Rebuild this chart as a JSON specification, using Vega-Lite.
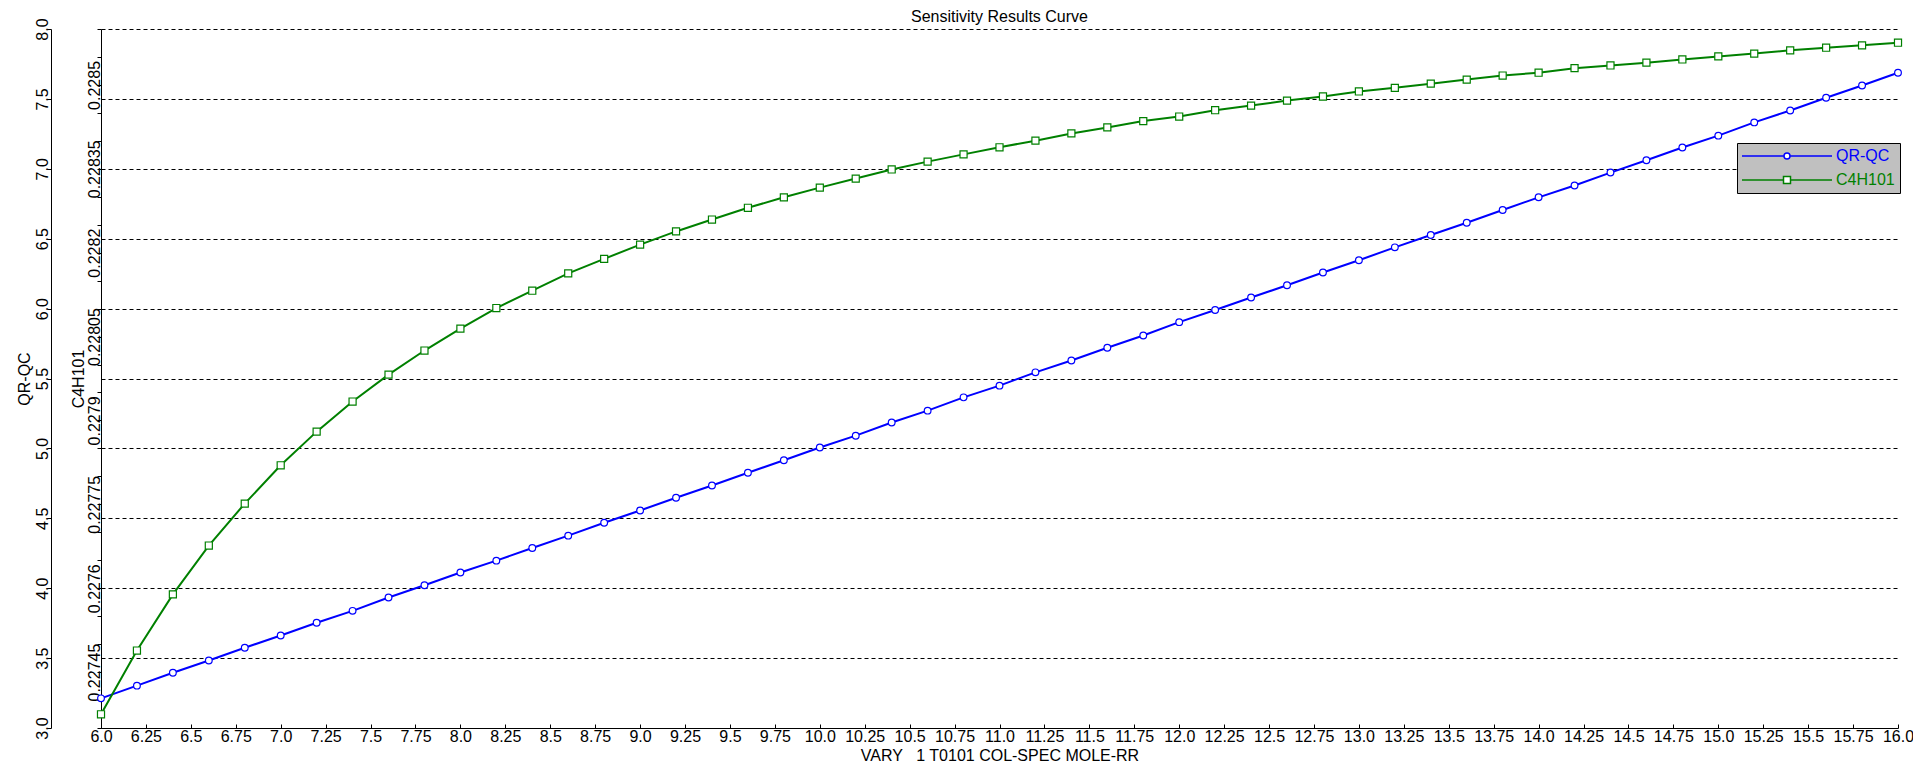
{
  "$schema": "https://vega.github.io/schema/vega-lite/v6.json",
  "width": 1797,
  "height": 699,
  "autosize": {"type": "none"},
  "padding": {"left": 101, "top": 29, "right": 15, "bottom": 41},
  "background": "white",
  "title": {"text": "Sensitivity Results Curve", "fontSize": 16, "fontWeight": "normal", "font": "Liberation Sans", "color": "black", "offset": 0, "dy": 7, "frame": "group"},
  "config": {
    "view": {"stroke": null},
    "font": "Liberation Sans",
    "axis": {
      "domainColor": "black", "tickColor": "black", "labelColor": "black", "titleColor": "black",
      "labelFont": "Liberation Sans", "titleFont": "Liberation Sans", "labelFontSize": 16, "titleFontSize": 16,
      "titleFontWeight": "normal", "labelFlush": false, "labelOverlap": false, "labelBound": false,
      "domainWidth": 1, "tickWidth": 1
    }
  },
  "data": {"values": [
    {"x": 6.0, "qrqc": 3.212, "c4h101": 0.2273745},
    {"x": 6.2, "qrqc": 3.303, "c4h101": 0.2274885},
    {"x": 6.4, "qrqc": 3.395, "c4h101": 0.2275890},
    {"x": 6.6, "qrqc": 3.483, "c4h101": 0.2276763},
    {"x": 6.8, "qrqc": 3.574, "c4h101": 0.2277513},
    {"x": 7.0, "qrqc": 3.662, "c4h101": 0.2278198},
    {"x": 7.2, "qrqc": 3.753, "c4h101": 0.2278800},
    {"x": 7.4, "qrqc": 3.838, "c4h101": 0.2279338},
    {"x": 7.6, "qrqc": 3.933, "c4h101": 0.2279820},
    {"x": 7.8, "qrqc": 4.021, "c4h101": 0.2280250},
    {"x": 8.0, "qrqc": 4.112, "c4h101": 0.2280643},
    {"x": 8.2, "qrqc": 4.197, "c4h101": 0.2281010},
    {"x": 8.4, "qrqc": 4.288, "c4h101": 0.2281320},
    {"x": 8.6, "qrqc": 4.376, "c4h101": 0.2281630},
    {"x": 8.8, "qrqc": 4.468, "c4h101": 0.2281890},
    {"x": 9.0, "qrqc": 4.556, "c4h101": 0.2282143},
    {"x": 9.2, "qrqc": 4.647, "c4h101": 0.2282380},
    {"x": 9.4, "qrqc": 4.735, "c4h101": 0.2282593},
    {"x": 9.6, "qrqc": 4.826, "c4h101": 0.2282803},
    {"x": 9.8, "qrqc": 4.915, "c4h101": 0.2282990},
    {"x": 10.0, "qrqc": 5.006, "c4h101": 0.2283163},
    {"x": 10.2, "qrqc": 5.091, "c4h101": 0.2283325},
    {"x": 10.4, "qrqc": 5.185, "c4h101": 0.2283488},
    {"x": 10.6, "qrqc": 5.270, "c4h101": 0.2283628},
    {"x": 10.8, "qrqc": 5.365, "c4h101": 0.2283758},
    {"x": 11.0, "qrqc": 5.449, "c4h101": 0.2283885},
    {"x": 11.2, "qrqc": 5.544, "c4h101": 0.2284003},
    {"x": 11.4, "qrqc": 5.629, "c4h101": 0.2284133},
    {"x": 11.6, "qrqc": 5.720, "c4h101": 0.2284240},
    {"x": 11.8, "qrqc": 5.808, "c4h101": 0.2284353},
    {"x": 12.0, "qrqc": 5.903, "c4h101": 0.2284435},
    {"x": 12.2, "qrqc": 5.990, "c4h101": 0.2284548},
    {"x": 12.4, "qrqc": 6.079, "c4h101": 0.2284630},
    {"x": 12.6, "qrqc": 6.167, "c4h101": 0.2284720},
    {"x": 12.8, "qrqc": 6.258, "c4h101": 0.2284793},
    {"x": 13.0, "qrqc": 6.346, "c4h101": 0.2284883},
    {"x": 13.2, "qrqc": 6.438, "c4h101": 0.2284948},
    {"x": 13.4, "qrqc": 6.526, "c4h101": 0.2285023},
    {"x": 13.6, "qrqc": 6.614, "c4h101": 0.2285095},
    {"x": 13.8, "qrqc": 6.705, "c4h101": 0.2285168},
    {"x": 14.0, "qrqc": 6.796, "c4h101": 0.2285218},
    {"x": 14.2, "qrqc": 6.881, "c4h101": 0.2285300},
    {"x": 14.4, "qrqc": 6.973, "c4h101": 0.2285348},
    {"x": 14.6, "qrqc": 7.061, "c4h101": 0.2285398},
    {"x": 14.8, "qrqc": 7.152, "c4h101": 0.2285455},
    {"x": 15.0, "qrqc": 7.237, "c4h101": 0.2285510},
    {"x": 15.2, "qrqc": 7.332, "c4h101": 0.2285560},
    {"x": 15.4, "qrqc": 7.417, "c4h101": 0.2285618},
    {"x": 15.6, "qrqc": 7.508, "c4h101": 0.2285665},
    {"x": 15.8, "qrqc": 7.596, "c4h101": 0.2285708},
    {"x": 16.0, "qrqc": 7.687, "c4h101": 0.2285755}
  ]},
  "encoding": {
    "x": {
      "field": "x", "type": "quantitative",
      "scale": {"domain": [6, 16], "nice": false, "zero": false},
      "axis": {
        "title": "VARY\u00a0\u00a0\u00a01 T0101 COL-SPEC MOLE-RR",
        "values": [6,6.25,6.5,6.75,7,7.25,7.5,7.75,8,8.25,8.5,8.75,9,9.25,9.5,9.75,10,10.25,10.5,10.75,11,11.25,11.5,11.75,12,12.25,12.5,12.75,13,13.25,13.5,13.75,14,14.25,14.5,14.75,15,15.25,15.5,15.75,16],
        "labelExpr": "datum.value % 1 == 0 ? format(datum.value, '.1f') : format(datum.value, '.2~f')",
        "tickSize": -4, "labelPadding": 4, "titlePadding": 3, "grid": false
      }
    },
    "color": {
      "datum": "QR-QC",
      "scale": {"domain": ["QR-QC", "C4H101"], "range": ["#0000ff", "#008000"]},
      "legend": {
        "orient": "none", "legendX": 1636, "legendY": 114, "title": null,
        "fillColor": "#c0c0c0", "strokeColor": "black", "padding": 5,
        "symbolSize": 100, "symbolStrokeWidth": 1.5, "symbolFillColor": "white",
        "labelFont": "Liberation Sans", "labelFontSize": 16, "labelOffset": 78, "rowPadding": 8,
        "encode": {
          "symbols": {"update": {
            "shape": {"signal": "datum.value === 'QR-QC' ? 'M-9,0H-0.6M0.6,0H9M0.6,0A0.6,0.6 0 1,1 -0.6,0A0.6,0.6 0 1,1 0.6,0Z' : 'M-9,0H-0.7M0.7,0H9M-0.7,-0.7H0.7V0.7H-0.7Z'"},
            "x": {"value": 45},
            "fill": {"value": "white"}
          }},
          "labels": {"update": {
            "fill": {"signal": "datum.value === 'QR-QC' ? '#0000ff' : '#008000'"}
          }}
        }
      }
    }
  },
  "layer": [
    {
      "mark": {"type": "line", "strokeWidth": 2, "point": {"filled": false, "fill": "white", "shape": "circle", "size": 45, "strokeWidth": 1.2}},
      "encoding": {
        "y": {
          "field": "qrqc", "type": "quantitative",
          "scale": {"domain": [3, 8], "nice": false, "zero": false},
          "axis": {
            "title": "QR-QC", "orient": "left", "offset": 50,
            "values": [3,3.5,4,4.5,5,5.5,6,6.5,7,7.5,8], "format": ".1f",
            "labelAngle": 270, "labelBaseline": "alphabetic", "tickSize": 4, "labelPadding": 0, "titlePadding": 2,
            "grid": true, "gridColor": "black", "gridDash": [4, 3], "gridWidth": 1, "gridOpacity": 1
          }
        },
        "color": {"datum": "QR-QC"}
      }
    },
    {
      "mark": {"type": "line", "strokeWidth": 2, "point": {"filled": false, "fill": "white", "shape": "square", "size": 50, "strokeWidth": 1.2}},
      "encoding": {
        "y": {
          "field": "c4h101", "type": "quantitative",
          "scale": {"domain": [0.22735, 0.2286], "nice": false, "zero": false},
          "axis": {
            "title": "C4H101", "orient": "left", "offset": 0,
            "values": [0.22735,0.2274,0.22745,0.2275,0.22755,0.2276,0.22765,0.2277,0.22775,0.2278,0.22785,0.2279,0.22795,0.228,0.22805,0.2281,0.22815,0.2282,0.22825,0.2283,0.22835,0.2284,0.22845,0.2285,0.22855,0.2286],
            "labelExpr": "round((datum.value - 0.22735) / 0.00005) % 3 == 2 ? format(datum.value, '.5~f') : ''",
            "labelAngle": 270, "labelBaseline": "alphabetic", "tickSize": 4, "labelPadding": -2, "titlePadding": 0, "grid": false
          }
        },
        "color": {"datum": "C4H101"}
      }
    }
  ],
  "resolve": {"scale": {"y": "independent"}}
}
